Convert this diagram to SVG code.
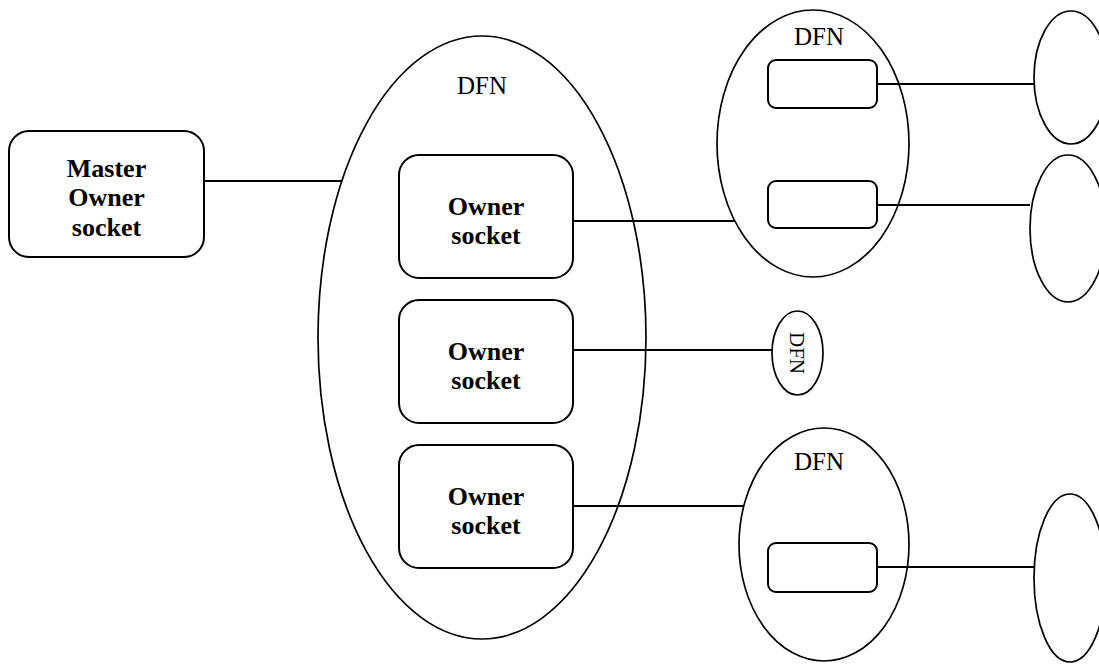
<svg xmlns="http://www.w3.org/2000/svg" width="1099" height="664" viewBox="0 0 1099 664">
  <style>
    .box { fill: #fff; stroke: #000; stroke-width: 2; }
    .ell { fill: none; stroke: #000; stroke-width: 1.7; }
    .wire { fill: none; stroke: #000; stroke-width: 1.9; }
    .bold { font-family: "Liberation Serif", "Times New Roman", serif; font-weight: bold; font-size: 26px; text-anchor: middle; fill: #000; }
    .lbl { font-family: "Liberation Serif", "Times New Roman", serif; font-size: 25px; text-anchor: middle; fill: #000; }
    .sm { font-family: "Liberation Serif", "Times New Roman", serif; font-size: 21px; text-anchor: middle; fill: #000; }
  </style>
  <rect width="1099" height="664" fill="#fff"/>

  <!-- connectors -->
  <g id="connectors">
    <line class="wire" x1="204" y1="181" x2="342" y2="181"/>
    <line class="wire" x1="573" y1="221" x2="735" y2="221"/>
    <line class="wire" x1="573" y1="350" x2="772" y2="350"/>
    <line class="wire" x1="573" y1="506" x2="743" y2="506"/>
    <line class="wire" x1="877" y1="84" x2="1034" y2="84"/>
    <line class="wire" x1="877" y1="205" x2="1030" y2="205"/>
    <line class="wire" x1="877" y1="567" x2="1034" y2="567"/>
  </g>

  <!-- master owner socket -->
  <g id="master">
    <rect class="box" x="9" y="131" width="195" height="126" rx="20" ry="20"/>
    <text class="bold" x="106.5" y="177">Master</text>
    <text class="bold" x="106.5" y="206">Owner</text>
    <text class="bold" x="106.5" y="236">socket</text>
  </g>

  <!-- main DFN with owner sockets -->
  <g id="dfn-main">
    <ellipse class="ell" cx="482" cy="337.5" rx="164" ry="301.5"/>
    <text class="lbl" x="482" y="94">DFN</text>
  </g>
  <g id="owner1">
    <rect class="box" x="399" y="155" width="174" height="123" rx="20" ry="20"/>
    <text class="bold" x="486" y="215">Owner</text>
    <text class="bold" x="486" y="244">socket</text>
  </g>
  <g id="owner2">
    <rect class="box" x="399" y="300" width="174" height="123" rx="20" ry="20"/>
    <text class="bold" x="486" y="360">Owner</text>
    <text class="bold" x="486" y="389">socket</text>
  </g>
  <g id="owner3">
    <rect class="box" x="399" y="445" width="174" height="123" rx="20" ry="20"/>
    <text class="bold" x="486" y="505">Owner</text>
    <text class="bold" x="486" y="534">socket</text>
  </g>

  <!-- upper DFN -->
  <g id="dfn-top">
    <ellipse class="ell" cx="813" cy="143.5" rx="96" ry="133.5"/>
    <text class="lbl" x="819" y="45">DFN</text>
    <rect class="box" x="768" y="60" width="109" height="48" rx="8" ry="8"/>
    <rect class="box" x="768" y="181" width="109" height="47" rx="8" ry="8"/>
  </g>

  <!-- small DFN -->
  <g id="dfn-small">
    <ellipse class="ell" cx="797.5" cy="353" rx="25.5" ry="42"/>
    <text class="sm" transform="translate(790,353) rotate(90)" y="0">DFN</text>
  </g>

  <!-- lower DFN -->
  <g id="dfn-bottom">
    <ellipse class="ell" cx="824" cy="544.5" rx="85" ry="116.5"/>
    <text class="lbl" x="819" y="470">DFN</text>
    <rect class="box" x="768" y="543" width="109" height="49" rx="8" ry="8"/>
  </g>

  <!-- peer ellipses on the right edge -->
  <g id="peer1"><ellipse class="ell" cx="1071" cy="77.5" rx="37" ry="66.5"/></g>
  <g id="peer2"><ellipse class="ell" cx="1068" cy="228.5" rx="38" ry="73.5"/></g>
  <g id="peer3"><ellipse class="ell" cx="1070" cy="578" rx="36" ry="84"/></g>
</svg>
